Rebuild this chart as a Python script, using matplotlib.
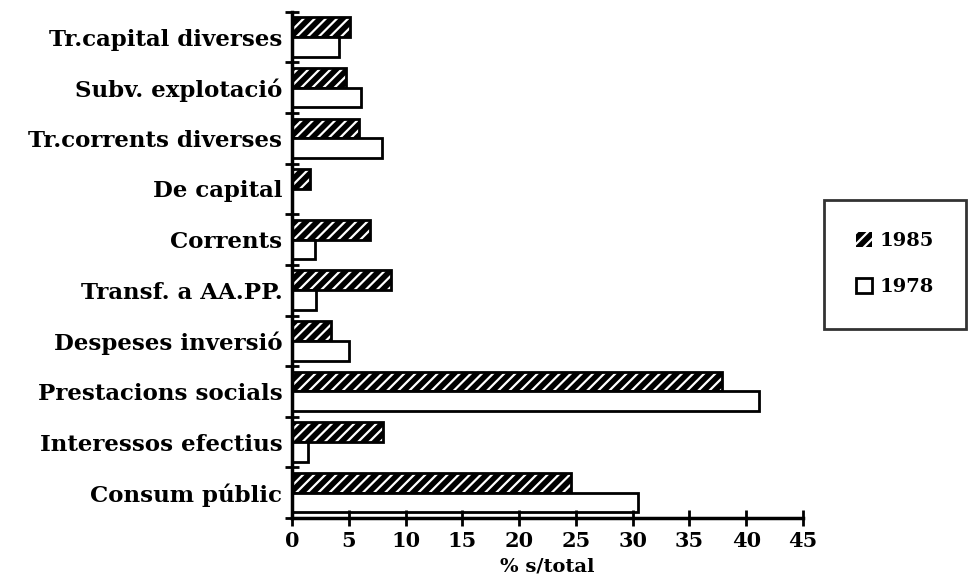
import matplotlib

matplotlib.use("Agg")
import matplotlib.pyplot as plt
import numpy as np
from matplotlib.patches import Patch

categories = [
    "Consum públic",
    "Interessos efectius",
    "Prestacions socials",
    "Despeses inversió",
    "Transf. a AA.PP.",
    "Corrents",
    "De capital",
    "Tr.corrents diverses",
    "Subv. explotació",
    "Tr.capital diverses",
]
values_1985 = [24.6, 8.0, 37.9, 3.4, 8.7, 6.9, 1.6, 5.9, 4.8, 5.1]
values_1978 = [30.5, 1.4, 41.1, 5.0, 2.1, 2.0, 0.0, 7.9, 6.1, 4.1]
series_labels = ["1985", "1978"]
x_ticks = [0, 5, 10, 15, 20, 25, 30, 35, 40, 45]

plt.rcParams["font.family"] = ["DejaVu Serif"]
plt.rcParams["font.weight"] = "bold"
plt.rcParams["hatch.linewidth"] = 1.6

fig = plt.figure(figsize=(9.71, 5.86), dpi=100)
ax = fig.add_axes([0.3007, 0.116, 0.5263, 0.864])

y = np.arange(len(categories))
h = 0.39

# hatched series: black fill with white stripes, then black outline
ax.barh(y + h / 2, values_1985, height=h, color="black", edgecolor="white",
        hatch="///", linewidth=0)
ax.barh(y + h / 2, values_1985, height=h, fill=False, edgecolor="black",
        linewidth=2)
ax.barh(y - h / 2, values_1978, height=h, color="white", edgecolor="black",
        linewidth=2)

ax.set_xlim(0, 45)
ax.set_ylim(-0.5, len(categories) - 0.5)
ax.set_xticks(x_ticks)
ax.set_xticklabels([str(t) for t in x_ticks], fontsize=15, fontweight="bold")
ax.set_yticks(y)
ax.set_yticklabels(categories, fontsize=16.5, fontweight="bold")
ax.set_yticks(np.arange(len(categories) + 1) - 0.5, minor=True)
ax.tick_params(axis="y", which="major", length=0, pad=7)
ax.tick_params(axis="y", which="minor", direction="inout", length=10, width=2)
ax.tick_params(axis="x", direction="inout", length=12, width=2, pad=3)
ax.set_xlabel("% s/total", fontsize=14, fontweight="bold", labelpad=5)

for side in ["top", "right"]:
    ax.spines[side].set_visible(False)
for side in ["left", "bottom"]:
    ax.spines[side].set_linewidth(2.5)

handles = [
    Patch(facecolor="black", edgecolor="white", hatch="///", linewidth=0),
    Patch(facecolor="white", edgecolor="black", linewidth=2),
]
leg = fig.legend(
    handles, series_labels, loc="upper left",
    bbox_to_anchor=(0.849, 0.659), fontsize=14,
    frameon=True, fancybox=False, edgecolor="black",
    borderpad=1.65, handlelength=0.8, handleheight=0.8,
    handletextpad=0.4, labelspacing=1.45, borderaxespad=0,
)
leg.get_frame().set_linewidth(2)
for t in leg.get_texts():
    t.set_fontweight("bold")

fig.savefig("out.png", dpi=100)
